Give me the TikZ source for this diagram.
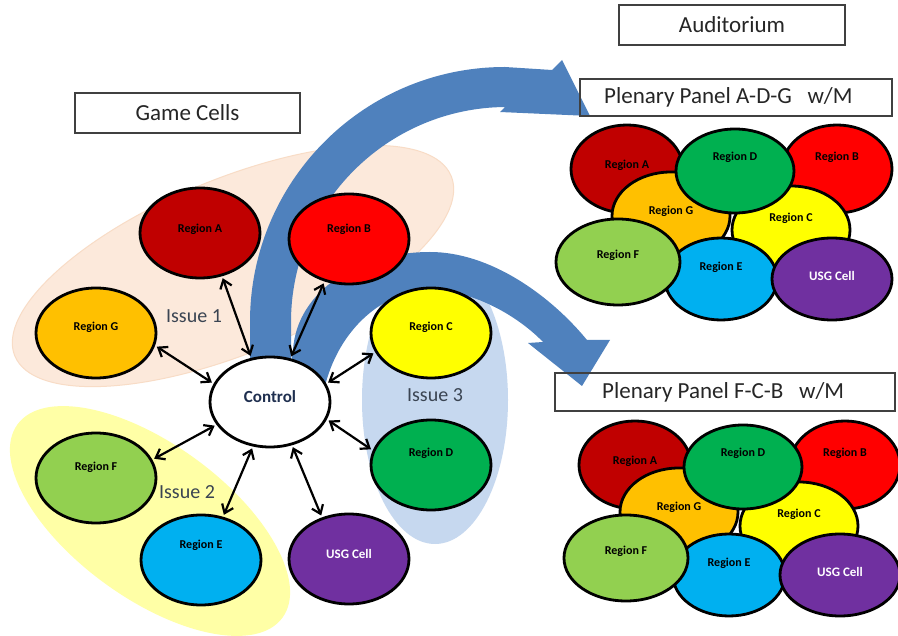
\documentclass[tikz,border=0pt]{standalone}
\usepackage{fontspec}
\setmainfont{Carlito}
\usetikzlibrary{shapes.geometric,arrows.meta}
\definecolor{rA}{HTML}{C00000}
\definecolor{rB}{HTML}{FF0000}
\definecolor{rG}{HTML}{FFC000}
\definecolor{rC}{HTML}{FFFF00}
\definecolor{rD}{HTML}{00B050}
\definecolor{rF}{HTML}{92D050}
\definecolor{rE}{HTML}{00B0F0}
\definecolor{rU}{HTML}{7030A0}
\definecolor{bandc}{HTML}{4F81BD}
\definecolor{issA}{HTML}{FCE9DB}
\definecolor{issAln}{HTML}{F8DCC6}
\definecolor{issB}{HTML}{FFFFA6}
\definecolor{issC}{HTML}{C6D8EF}
\definecolor{isstxt}{HTML}{3A4452}
\definecolor{boxln}{HTML}{404040}
\definecolor{ctrltxt}{HTML}{1F2F4F}
\tikzset{
  cell/.style={ellipse, draw=black, line width=2.8pt, fill=#1, inner sep=0pt,
    minimum width=120pt, minimum height=90pt},
  rl/.style={font=\fontsize{12}{12}\selectfont\bfseries, text=black},
  rlw/.style={font=\fontsize{13}{13}\selectfont\bfseries, text=white},
  dbl/.style={arrows={Straight Barb[length=8pt,width=12pt]-Straight Barb[length=8pt,width=12pt]},
    line width=2.2pt, shorten <=2pt, shorten >=2pt},
  band/.style={fill=bandc},
  titlebox/.style={draw=boxln, line width=1.8pt},
  boxtext/.style={font=\fontsize{23}{23}\selectfont, text=black!85},
  isslabel/.style={font=\fontsize{20}{20}\selectfont, text=isstxt},
}
\begin{document}
\begin{tikzpicture}[x=1pt,y=-1pt]
\useasboundingbox (0,0) rectangle (898,636);
\fill[white] (0,0) rectangle (898,636);

% issue groupings
\filldraw[fill=issA, draw=issAln, line width=1pt, rotate around={22.4:(233,266)}] (233,266) ellipse [x radius=236, y radius=87];
\fill[issB, rotate around={-36.1:(150,521)}] (150,521) ellipse [x radius=164, y radius=77];
\fill[issC] (435,400) ellipse [x radius=73, y radius=144];

% big blue curved arrows
\fill[band] (250,368) -- (250,322) .. controls (250,181) and (364,67) .. (505,67)
  -- (552,70) -- (562,60) -- (590,116) -- (500,112) -- (505,107)
  .. controls (387,108) and (291,204) .. (291,322) -- (291,368) -- cycle;
\fill[band] (290,370) -- (293,350) .. controls (297,290) and (360,252) .. (430,252)
  .. controls (490,252) and (550,295) .. (587,340) -- (610,340) -- (582,386)
  -- (528,343) -- (543,342) .. controls (520,318) and (475,290) .. (430,290)
  .. controls (385,290) and (338,328) .. (324,390) -- cycle;

% game cells
\node[cell=rA, label={[rl,yshift=4pt]center:Region A}] (A) at (200,233) {};
\node[cell=rB, label={[rl,yshift=10pt]center:Region B}] (B) at (349,239) {};
\node[cell=rG, label={[rl,yshift=6pt]center:Region G}] (G) at (96,333) {};
\node[cell=rC, label={[rl,yshift=6pt]center:Region C}] (C) at (431,333) {};
\node[cell=rD, label={[rl,yshift=12pt]center:Region D}] (D) at (431,465) {};
\node[cell=rF, label={[rl,yshift=11pt]center:Region F}] (F) at (96,478) {};
\node[cell=rE, label={[rl,yshift=15pt]center:Region E}] (E) at (201,560) {};
\node[cell=rU, label={[rlw,yshift=5pt]center:USG Cell}] (U) at (349,559) {};
\node[cell=white, label={[font=\fontsize{17}{17}\selectfont\bfseries, text=ctrltxt, yshift=5pt]center:Control}] (ctrl) at (270,402) {};

\node[isslabel] (i1) at (194,316) {Issue 1};
\node[isslabel] (i2) at (187,492) {Issue 2};
\node[isslabel] (i3) at (435,395) {Issue 3};

% control links
\draw[dbl] (ctrl.162) -- (G.-12);
\draw[dbl] (ctrl.113) -- (A.-63);
\draw[dbl] (ctrl.65) -- (B.240);
\draw[dbl] (ctrl.18) -- (C.199);
\draw[dbl] (ctrl.203) -- (F.18);
\draw[dbl] (ctrl.249) -- (E.63);
\draw[dbl] (ctrl.297) -- (U.123);
\draw[dbl] (ctrl.343) -- (D.166);

% plenary panels
\foreach \p/\dx/\dy in {t/0/0, b/8/296} {
  \begin{scope}[shift={(\dx,\dy)}]
    \node[cell=rA, minimum width=112pt, minimum height=88pt, label={[rl,yshift=4pt]center:Region A}] (\p-A) at (627,169) {};
    \node[cell=rB, minimum width=110pt, minimum height=88pt, label={[rl,yshift=12pt]center:Region B}] (\p-B) at (837,169) {};
    \node[cell=rG, minimum width=118pt, minimum height=88pt, label={[rl,yshift=5pt]center:Region G}] (\p-G) at (671,216) {};
    \node[cell=rC, minimum width=118pt, minimum height=88pt, label={[rl,yshift=12pt]center:Region C}] (\p-C) at (791,230) {};
    \node[cell=rD, minimum width=118pt, minimum height=84pt, label={[rl,yshift=14pt]center:Region D}] (\p-D) at (735,171) {};
    \node[cell=rE, minimum width=112pt, minimum height=82pt, label={[rl,yshift=12pt]center:Region E}] (\p-E) at (721,279) {};
    \node[cell=rF, minimum width=124pt, minimum height=86pt, label={[rl,yshift=7pt]center:Region F}] (\p-F) at (618,262) {};
    \node[cell=rU, minimum width=120pt, minimum height=82pt, label={[rlw,yshift=3pt]center:USG Cell}] (\p-U) at (832,279) {};
  \end{scope}
}

% title boxes
\draw[titlebox] (75,93) rectangle (300,133);
\node[boxtext] (gc) at (187.5,113) {Game Cells};
\draw[titlebox] (619,5) rectangle (845,45);
\node[boxtext] (aud) at (732,25) {Auditorium};
\draw[titlebox] (580,79) rectangle (892,116);
\node[boxtext, anchor=west, inner sep=0pt] (pp1) at (604,97) {Plenary Panel A-D-G\ \ \ w/M};
\draw[titlebox] (555,373) rectangle (895,411);
\node[boxtext, anchor=west, inner sep=0pt] (pp2) at (602,392) {Plenary Panel F-C-B\ \ \ w/M};
\end{tikzpicture}
\end{document}
